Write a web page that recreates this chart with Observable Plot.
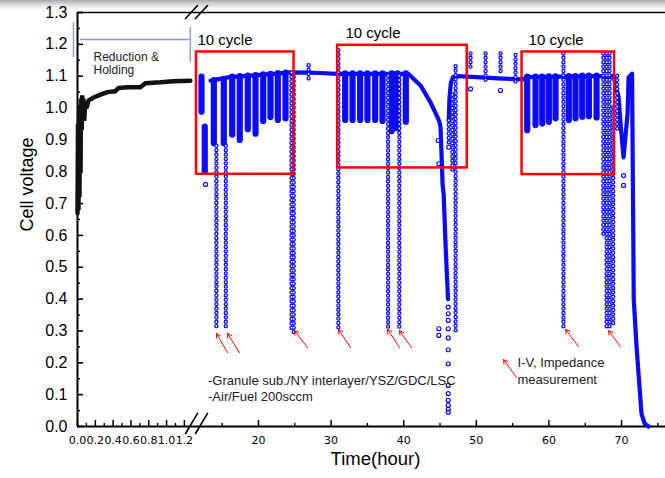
<!DOCTYPE html>
<html><head><meta charset="utf-8">
<script src="https://cdn.jsdelivr.net/npm/d3@7"></script>
<script src="https://cdn.jsdelivr.net/npm/@observablehq/plot@0.6"></script>
<style>
html,body{margin:0;padding:0;}
body{width:665px;height:478px;overflow:hidden;background:linear-gradient(to bottom,#a8a8a8 0px,#d6d6d6 4px,#f3f3f3 8px,#ffffff 11px);}
#chart svg{display:block;background:transparent;}
</style></head><body><div id="chart"></div>
<script>
// ---- data (hours, volts) ----
const blackT = [0.0,0.006,0.011,0.017,0.022,0.028,0.034,0.04,0.047,0.053,0.06,0.067,0.075,0.085,0.1,0.123,0.179,0.258,0.336,0.426,0.46,0.56,0.706,0.762,0.93,1.076,1.267];
const blackV = [0.67,0.95,0.68,0.99,0.72,1.01,0.80,1.03,0.93,1.04,0.96,1.03,0.96,1.01,1.0,1.023,1.033,1.042,1.05,1.053,1.063,1.065,1.065,1.078,1.081,1.084,1.086];

const blueT = [13.4,16.0,19.0,22.0,24.4,26.9,28.5,30.9,40.66,42.31,43.69,44.66,44.93,45.07,45.25,45.35,45.5,45.8,46.1,
               46.2,46.3,46.5,46.8,47.5,50.0,53.0,56.5,57.0,66.6,68.9,69.6,69.86,70.28,70.5,70.83,70.97,71.45,71.55,71.62,71.68,72.07,72.41,72.75,73.17,73.72];
const blueV = [1.086,1.097,1.102,1.107,1.112,1.111,1.110,1.107,1.107,1.071,1.018,0.971,0.955,0.94,0.83,0.76,0.73,0.55,0.40,
               0.96,1.03,1.08,1.097,1.10,1.097,1.093,1.09,1.097,1.10,1.10,1.033,0.951,0.845,0.90,0.983,1.096,1.108,0.80,0.60,0.40,0.25,0.145,0.04,0.01,0.0];
const blueSeg = [1,1,1,1,1,1,1,1,1,1,1,1,1,1,1,1,1,1,1,
                 2,2,2,2,2,2,2,2,2,2,2,2,2,2,2,2,2,2,2,2,2,2,2,2,2,2];

// cycles: time, minimum, top
const cycleT   = [12.15,12.6,13.85,15.22,16.38,17.42,18.53,19.59,20.65,21.65,22.66,23.72,
                  31.94,32.95,34.0,35.01,36.07,37.08,38.36,39.15,40.29,
                  57.01,58.15,59.08,59.99,60.91,62.74,63.66,64.59,65.5,66.56];
const cycleMin = [0.987,0.80,0.888,0.888,0.915,0.898,0.932,0.918,0.958,0.970,0.961,0.966,
                  0.961,0.961,0.961,0.961,0.961,0.958,0.926,0.935,0.955,
                  0.929,0.945,0.950,0.955,0.966,0.961,0.966,0.971,0.973,0.969];
const cycleTop = [1.097,0.94,1.086,1.09,1.097,1.099,1.10,1.102,1.104,1.106,1.108,1.11,
                  1.107,1.107,1.107,1.107,1.107,1.107,1.107,1.107,1.107,
                  1.097,1.097,1.097,1.098,1.098,1.099,1.099,1.10,1.10,1.10];

// I-V measurement columns: time, top, bottom
const ivT   = [14.2,15.5,24.55,24.85,26.9,31.0,37.85,39.4,46.2,46.7,47.15,49.2,51.27,53.33,55.4,62.0,67.5,67.95,68.35,68.85,69.4];
const ivTop = [0.88,0.88,1.11,1.11,1.133,1.18,1.10,1.10,0.96,1.04,1.13,1.17,1.17,1.17,1.165,1.17,1.17,1.17,1.17,1.0,1.10];
const ivBot = [0.30,0.30,0.30,0.29,1.086,0.30,0.30,0.30,0.88,0.80,0.30,1.12,1.086,1.106,1.07,0.30,0.60,0.31,0.30,0.31,0.93];

const scatT = [12.7,44.75,44.84,44.84,44.84,46.13,46.13,46.13,46.13,46.13,46.13,46.13,46.13,46.13,46.13,46.13,46.13,46.13,46.2,53.33,70.28,70.28,49.2];
const scatV = [0.76,0.898,0.825,0.307,0.286,0.375,0.354,0.333,0.307,0.278,0.241,0.197,0.129,0.103,0.082,0.066,0.055,0.045,0.877,1.055,0.788,0.757,1.06];

// red boxes
const boxT1 = [11.46,30.9,56.3];
const boxT2 = [24.9,48.75,69.04];
const boxV1 = [0.792,0.812,0.791];
const boxV2 = [1.176,1.197,1.176];
const boxLabel = ["10 cycle","10 cycle","10 cycle"];
const boxLabelT = [11.6,31.98,57.2];
const boxLabelV = [1.212,1.234,1.212];

// red arrows (tail -> head)
const arrT1 = [15.73,17.38,26.75,32.67,39.42,41.07,64.08,69.86,55.54];
const arrV1 = [0.232,0.232,0.248,0.248,0.248,0.248,0.251,0.251,0.154];
const arrT2 = [14.21,15.73,24.96,31.02,37.77,39.42,62.29,68.21,53.75];
const arrV2 = [0.292,0.292,0.301,0.305,0.305,0.301,0.305,0.301,0.210];

// bracket "Reduction & Holding"
const brVertT = [-0.045,1.267];
const brVertV1 = [1.159,1.143];
const brVertV2 = [1.268,1.253];
const brHorT1 = [0.034], brHorT2 = [1.267], brHorV = [1.215];

// axis break slashes
const slashT = [1.213,11.6, 11.32,12.98, 1.213,11.6, 11.32,12.98];
const slashV = [-0.022,0.041, -0.022,0.041, 1.281,1.322, 1.281,1.322];
const slashZ = [0,0,1,1,2,2,3,3];

// ticks
const yMajor = [0,0.1,0.2,0.3,0.4,0.5,0.6,0.7,0.8,0.9,1.0,1.1,1.2,1.3];
const yMinor = [0.05,0.15,0.25,0.35,0.45,0.55,0.65,0.75,0.85,0.95,1.05,1.15,1.25];
const x1Major = [0,0.2,0.4,0.6,0.8,1.0,1.2];
const x1Minor = [0.1,0.3,0.5,0.7,0.9,1.1];
const x2Major = [20,30,40,50,60,70];
const x2Minor = [15,25,35,45,55,65,75];

const blue = "#0a0aff";
const red = "#ff0000";
const idx = a => d3.range(a.length);
const f1 = d3.format(".1f");

const chart = Plot.plot({
  width: 665, height: 478,
  marginTop: 12, marginBottom: 52, marginLeft: 77, marginRight: 0,
  style: {background: "transparent", overflow: "visible"},
  x: {type: "linear", domain: [0, 1.28, 10.8, 76], range: [77, 191, 191.2, 664.6], label: null},
  y: {domain: [0, 1.3], label: null},
  marks: [
    // axes frame
    Plot.ruleY([0], {stroke: "#000", strokeWidth: 1.8}),
    Plot.ruleY([1.3], {stroke: "#000", strokeWidth: 1.6}),
    Plot.ruleX([0], {stroke: "#000", strokeWidth: 2}),
    Plot.axisY(yMajor, {tickSize: -6, tickPadding: 16, tickFormat: f1, fontSize: 16, fontFamily: "Liberation Sans", strokeWidth: 1.6, label: null}),
    Plot.axisY(yMinor, {tickSize: -3, tickPadding: 16, tickFormat: () => "", strokeWidth: 1.4, label: null}),
    Plot.axisX(x1Major, {tickSize: -6, tickPadding: 16, tickFormat: f1, fontSize: 11, fontFamily: "DejaVu Sans", strokeWidth: 1.5, label: null}),
    Plot.axisX(x1Minor, {tickSize: -3, tickPadding: 16, tickFormat: () => "", strokeWidth: 1.4, label: null}),
    Plot.axisX(x2Major, {tickSize: -6, tickPadding: 16, tickFormat: d3.format("d"), fontSize: 11, fontFamily: "DejaVu Sans", strokeWidth: 1.5, label: null}),
    Plot.axisX(x2Minor, {tickSize: -3, tickPadding: 16, tickFormat: () => "", strokeWidth: 1.4, label: null}),
    Plot.line(idx(slashT), {x: i => slashT[i], y: i => slashV[i], z: i => slashZ[i], stroke: "#000", strokeWidth: 1.6}),
    Plot.text(["Cell voltage"], {frameAnchor: "left", rotate: -90, dx: -50, dy: 12, fontSize: 18, fontFamily: "Liberation Sans", fill: "#000"}),
    Plot.text(["Time(hour)"], {frameAnchor: "bottom", dx: 4, dy: 38, fontSize: 18.5, fontFamily: "Liberation Sans", fill: "#000"}),

    // black reduction & holding trace
    Plot.line(idx(blackT), {x: i => blackT[i], y: i => blackV[i], stroke: "#111", strokeWidth: 4.5, strokeLinejoin: "miter"}),

    // blue trace
    Plot.ruleX(idx(cycleT), {x: i => cycleT[i], y1: i => cycleMin[i], y2: i => cycleTop[i], stroke: blue, strokeWidth: 6.2, strokeLinecap: "round"}),
    Plot.line(idx(blueT), {x: i => blueT[i], y: i => blueV[i], z: i => blueSeg[i], stroke: blue, strokeWidth: 4.2, strokeLinejoin: "round", strokeLinecap: "round"}),
    Plot.ruleX(idx(ivT), {x: i => ivT[i], y1: i => ivTop[i], y2: i => ivBot[i], stroke: blue, strokeWidth: 4.4, strokeDasharray: "0 4.4", strokeLinecap: "round"}),
    Plot.ruleX(idx(ivT), {x: i => ivT[i], y1: i => ivTop[i], y2: i => ivBot[i], stroke: "#fff", strokeWidth: 1.8, strokeDasharray: "0 4.4", strokeLinecap: "round"}),
    Plot.dot(idx(scatT), {x: i => scatT[i], y: i => scatV[i], r: 2, stroke: blue, strokeWidth: 1.2, fill: "none"}),

    // red boxes and labels
    Plot.rect(idx(boxT1), {x1: i => boxT1[i], x2: i => boxT2[i], y1: i => boxV1[i], y2: i => boxV2[i], fill: "none", stroke: red, strokeWidth: 2.5}),
    Plot.text(idx(boxLabel), {x: i => boxLabelT[i], y: i => boxLabelV[i], text: i => boxLabel[i], textAnchor: "start", fontSize: 15, fontFamily: "Liberation Sans", fill: "#000"}),

    // arrows
    Plot.arrow(idx(arrT1), {x1: i => arrT1[i], y1: i => arrV1[i], x2: i => arrT2[i], y2: i => arrV2[i], stroke: red, strokeWidth: 1, headLength: 7}),

    // bracket
    Plot.ruleX(idx(brVertT), {x: i => brVertT[i], y1: i => brVertV1[i], y2: i => brVertV2[i], stroke: "#86a3cc", strokeWidth: 1.5}),
    Plot.ruleY(idx(brHorV), {y: i => brHorV[i], x1: i => brHorT1[i], x2: i => brHorT2[i], stroke: "#86a3cc", strokeWidth: 1.5}),

    // annotations
    Plot.text(["Reduction &", "Holding"], {x: 0.18, y: (d, i) => [1.159, 1.118][i], textAnchor: "start", fontSize: 12, fontFamily: "Liberation Sans", fill: "#222"}),
    Plot.text(["-Granule sub./NY interlayer/YSZ/GDC/LSC", "-Air/Fuel 200sccm"], {x: 13.05, y: (d, i) => [0.142, 0.092][i], textAnchor: "start", fontSize: 13, fontFamily: "Liberation Sans", fill: "#222"}),
    Plot.text(["I-V, Impedance", "measurement"], {x: 55.67, y: (d, i) => [0.201, 0.148][i], textAnchor: "start", fontSize: 13, fontFamily: "Liberation Sans", fill: "#222"})
  ]
});
document.getElementById("chart").appendChild(chart);
</script></body></html>
